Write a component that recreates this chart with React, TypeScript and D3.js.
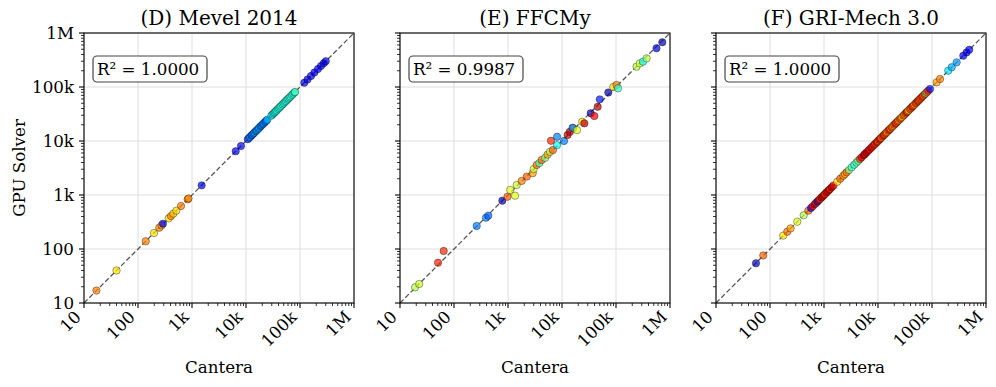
import { useRef, useLayoutEffect } from 'react';
import * as d3 from 'd3';

// shared axis settings
const tickValues = [10, 100, 1e3, 1e4, 1e5, 1e6];
const tickLabels = ['10', '100', '1k', '10k', '100k', '1M'];

const panelTitles = ['(D) Mevel 2014', '(E) FFCMy', '(F) GRI-Mech 3.0'];
const panelR2 = ['R² = 1.0000', 'R² = 0.9987', 'R² = 1.0000'];

// (D) Mevel 2014
const mevelCantera = [17, 40, 139, 198, 248, 274, 290, 370, 407, 451, 513, 626, 832, 860, 1510, 6450, 8070,
  10800, 11500, 12000, 12600, 13200, 13800, 14500, 15200, 16000, 16800, 17600, 18500, 19500, 20500, 21500, 22600, 23800, 24800,
  29500, 31000, 32500, 34000, 35500, 37000, 39000, 41000, 43000, 45000, 47500, 50000, 52500, 55000, 58000, 61000, 64000, 67000, 71000, 75000, 79000, 81000,
  120000, 138000, 160000, 185000, 215000, 245000, 275000, 300000];
const mevelGpu = [17, 40, 139, 198, 248, 274, 294, 370, 407, 451, 513, 626, 832, 860, 1510, 6450, 8070,
  10800, 11500, 12000, 12600, 13200, 13800, 14500, 15200, 16000, 16800, 17600, 18500, 19500, 20500, 21500, 22600, 23800, 24800,
  29500, 31000, 32500, 34000, 35500, 37000, 39000, 41000, 43000, 45000, 47500, 50000, 52500, 55000, 58000, 61000, 64000, 67000, 71000, 75000, 79000, 81000,
  120000, 138000, 160000, 185000, 215000, 245000, 275000, 300000];
const mevelColor = [0.75, 0.65, 0.75, 0.65, 0.75, 0.72, 0.1, 0.65, 0.75, 0.68, 0.66, 0.75, 0.76, 0.74, 0.1, 0.1, 0.11,
  0.15, 0.22, 0.3, 0.18, 0.28, 0.22, 0.32, 0.2, 0.3, 0.24, 0.32, 0.2, 0.28, 0.22, 0.3, 0.2, 0.26, 0.3,
  0.36, 0.4, 0.34, 0.42, 0.38, 0.44, 0.36, 0.42, 0.4, 0.45, 0.37, 0.43, 0.39, 0.44, 0.36, 0.42, 0.4, 0.45, 0.38, 0.43, 0.41, 0.44,
  0.1, 0.09, 0.11, 0.1, 0.12, 0.1, 0.11, 0.09];

// (E) FFCMy
const ffcmCantera = [19, 22.7, 50.6, 64.4, 263, 392, 431, 785, 980, 1100, 1350, 1450, 1790, 2230, 2870, 2990,
  3400, 3800, 4200, 4870, 5400, 6000, 6800, 8100, 6250, 8100, 10900, 12700, 14000, 16200, 15700, 19000, 23700, 26000,
  34000, 39700, 45800, 50000, 72000, 89000, 102000, 109000, 240000, 276000, 316000, 370000, 562000, 720000];
const ffcmGpu = [19.5, 22.5, 55.7, 91.8, 267, 380, 414, 785, 930, 1240, 970, 1530, 1820, 2190, 2530, 3030,
  3600, 3900, 4450, 4870, 5600, 6300, 6800, 8400, 10100, 12000, 10000, 12900, 14800, 17200, 17600, 15900, 22700, 21200,
  32600, 29000, 43000, 59000, 79000, 100000, 109000, 94600, 238000, 274000, 294000, 339000, 521000, 674000];
const ffcmColor = [0.55, 0.58, 0.85, 0.84, 0.25, 0.25, 0.22, 0.05, 0.78, 0.6, 0.6, 0.58, 0.75, 0.78, 0.72, 0.58,
  0.76, 0.45, 0.77, 0.5, 0.72, 0.55, 0.78, 0.38, 0.84, 0.25, 0.25, 0.93, 0.95, 0.6, 0.22, 0.6, 0.65, 0.93,
  0.05, 0.88, 0.95, 0.15, 0.05, 0.65, 0.75, 0.42, 0.55, 0.6, 0.38, 0.55, 0.1, 0.05];

// (F) GRI-Mech 3.0
const griCantera = [55, 75, 176, 209, 241, 320, 421, 513, 575,
  620, 681, 720, 760, 800, 850, 900, 950, 1000, 1050, 1110, 1180, 1240, 1300, 1390, 1500,
  1760, 2000, 2270, 2450, 2630, 2900, 3260, 3630, 4000, 4300, 4640, 5000, 5500, 5750, 6100, 6600, 7000, 7500,
  8000, 8500, 9000, 9500, 10000, 10500, 11000, 11500, 12200, 12800, 13400, 14000, 14700, 15500, 16200, 17000,
  18000, 19000, 20000, 21000, 22000, 23000, 24200, 25500, 26700, 28000, 29500, 31000, 32500, 34000, 35500,
  37000, 39000, 41000, 43000, 45000, 47500, 50000, 52500, 55000, 57500, 60000, 63000, 66000, 69500, 73000,
  76500, 80000, 85000, 92000, 122000, 141000, 200000, 232000, 286000, 380000, 437000, 490000];
const griGpu = [54.3, 76, 177, 209, 241, 320, 421, 513, 575,
  620, 681, 720, 760, 800, 850, 900, 950, 1000, 1050, 1110, 1180, 1240, 1300, 1390, 1500,
  1760, 2000, 2270, 2450, 2630, 2900, 3260, 3630, 4000, 4300, 4640, 5000, 5500, 5750, 6100, 6600, 7000, 7500,
  8000, 8500, 9000, 9500, 10000, 10500, 11000, 11500, 12200, 12800, 13400, 14000, 14700, 15500, 16200, 17000,
  18000, 19000, 20000, 21000, 22000, 23000, 24200, 25500, 26700, 28000, 29500, 31000, 32500, 34000, 35500,
  37000, 39000, 41000, 43000, 45000, 47500, 50000, 52500, 55000, 57500, 60000, 63000, 66000, 69500, 73000,
  76500, 80000, 85000, 92000, 122000, 141000, 200000, 232000, 286000, 380000, 437000, 490000];
const griColor = [0.05, 0.78, 0.65, 0.76, 0.72, 0.6, 0.55, 0.78, 0.12,
  0.88, 0.95, 0.86, 0.15, 0.92, 0.82, 0.96, 0.88, 0.93, 0.8, 0.95, 0.86, 0.92, 0.84, 0.96, 0.88,
  0.65, 0.78, 0.75, 0.7, 0.78, 0.5, 0.45, 0.4, 0.5, 0.45, 0.84, 0.9, 0.95, 0.88, 0.96, 0.92, 0.86, 0.94,
  0.84, 0.9, 0.8, 0.92, 0.76, 0.86, 0.9, 0.74, 0.82, 0.88, 0.76, 0.84, 0.7, 0.8, 0.88, 0.74,
  0.82, 0.7, 0.8, 0.88, 0.76, 0.84, 0.7, 0.82, 0.78, 0.62, 0.84, 0.72, 0.8, 0.9, 0.76,
  0.66, 0.84, 0.76, 0.88, 0.8, 0.7, 0.84, 0.78, 0.9, 0.74, 0.82, 0.78, 0.86, 0.76, 0.82,
  0.45, 0.78, 0.86, 0.15, 0.72, 0.75, 0.35, 0.3, 0.28, 0.12, 0.1, 0.12];

const panels = [
  { cantera: mevelCantera, gpu: mevelGpu, color: mevelColor },
  { cantera: ffcmCantera, gpu: ffcmGpu, color: ffcmColor },
  { cantera: griCantera, gpu: griGpu, color: griColor },
];

// matplotlib-like jet colormap
function jet(t: number) {
  const c = (v: number) => Math.max(0, Math.min(1, v));
  const r = c(1.5 - Math.abs(4 * t - 3));
  const g = c(1.5 - Math.abs(4 * t - 2));
  const b = c(1.5 - Math.abs(4 * t - 1));
  return d3.rgb(r * 255, g * 255, b * 255).formatHex();
}

const FONT = '"DejaVu Serif", serif';

export default function App() {
  const svgRef = useRef<SVGSVGElement>(null);

  useLayoutEffect(() => {
    const svgWidth = 996;
    const svgHeight = 387;
    const lefts = [84, 400, 716];
    const top = 33;
    const size = 270;

    const svg = d3.select(svgRef.current).attr('width', svgWidth).attr('height', svgHeight);
    svg.selectAll('*').remove();
    svg.append('rect').attr('width', svgWidth).attr('height', svgHeight).attr('fill', 'white');

    const minorTicks: number[] = [];
    for (let d = 10; d < 1e6; d *= 10) {
      for (let m = 2; m < 10; m++) minorTicks.push(d * m);
    }

    panels.forEach((panel, i) => {
      const g = svg.append('g').attr('transform', `translate(${lefts[i]}, ${top})`);
      const x = d3.scaleLog().domain([10, 1e6]).range([0, size]);
      const y = d3.scaleLog().domain([10, 1e6]).range([size, 0]);

      // grid
      g.append('g')
        .selectAll('line')
        .data(tickValues)
        .join('line')
        .attr('x1', (d) => x(d))
        .attr('x2', (d) => x(d))
        .attr('y1', 0)
        .attr('y2', size)
        .attr('stroke', '#dedede')
        .attr('stroke-width', 1);
      g.append('g')
        .selectAll('line')
        .data(tickValues)
        .join('line')
        .attr('y1', (d) => y(d))
        .attr('y2', (d) => y(d))
        .attr('x1', 0)
        .attr('x2', size)
        .attr('stroke', '#dedede')
        .attr('stroke-width', 1);

      // 1:1 line
      g.append('line')
        .attr('x1', x(10))
        .attr('y1', y(10))
        .attr('x2', x(1e6))
        .attr('y2', y(1e6))
        .attr('stroke', '#555')
        .attr('stroke-width', 1.3)
        .attr('stroke-dasharray', '5,2.5');

      // points
      g.append('g')
        .selectAll('circle')
        .data(panel.cantera.map((c, k) => ({ c, v: panel.gpu[k], t: panel.color[k] })))
        .join('circle')
        .attr('cx', (d) => x(d.c))
        .attr('cy', (d) => y(d.v))
        .attr('r', 3.7)
        .attr('fill', (d) => jet(d.t))
        .attr('fill-opacity', 0.7)
        .attr('stroke', 'black')
        .attr('stroke-opacity', 0.6)
        .attr('stroke-width', 0.6);

      // spines
      g.append('rect')
        .attr('width', size)
        .attr('height', size)
        .attr('fill', 'none')
        .attr('stroke', 'black')
        .attr('stroke-width', 1.1);

      // ticks
      g.append('g')
        .selectAll('line')
        .data(tickValues)
        .join('line')
        .attr('x1', (d) => x(d))
        .attr('x2', (d) => x(d))
        .attr('y1', size)
        .attr('y2', size + 5)
        .attr('stroke', 'black')
        .attr('stroke-width', 1.1);
      g.append('g')
        .selectAll('line')
        .data(minorTicks)
        .join('line')
        .attr('x1', (d) => x(d))
        .attr('x2', (d) => x(d))
        .attr('y1', size)
        .attr('y2', size + 3)
        .attr('stroke', 'black')
        .attr('stroke-width', 0.8);
      g.append('g')
        .selectAll('line')
        .data(tickValues)
        .join('line')
        .attr('y1', (d) => y(d))
        .attr('y2', (d) => y(d))
        .attr('x1', 0)
        .attr('x2', -5)
        .attr('stroke', 'black')
        .attr('stroke-width', 1.1);
      g.append('g')
        .selectAll('line')
        .data(minorTicks)
        .join('line')
        .attr('y1', (d) => y(d))
        .attr('y2', (d) => y(d))
        .attr('x1', 0)
        .attr('x2', -3)
        .attr('stroke', 'black')
        .attr('stroke-width', 0.8);

      // x tick labels, rotated 45°
      g.append('g')
        .selectAll('text')
        .data(tickValues)
        .join('text')
        .attr('transform', (d) => `translate(${x(d) - 2}, ${size + 15}) rotate(-45)`)
        .attr('text-anchor', 'end')
        .attr('font-family', FONT)
        .attr('font-size', 16.7)
        .text((d, k) => tickLabels[k]);

      if (i === 0) {
        g.append('g')
          .selectAll('text')
          .data(tickValues)
          .join('text')
          .attr('x', -10)
          .attr('y', (d) => y(d))
          .attr('dy', '0.36em')
          .attr('text-anchor', 'end')
          .attr('font-family', FONT)
          .attr('font-size', 16.7)
          .text((d, k) => tickLabels[k]);
        g.append('text')
          .attr('transform', `translate(${-59}, ${size / 2}) rotate(-90)`)
          .attr('text-anchor', 'middle')
          .attr('font-family', FONT)
          .attr('font-size', 16.7)
          .text('GPU Solver');
      }

      // x label
      g.append('text')
        .attr('x', size / 2)
        .attr('y', size + 70)
        .attr('text-anchor', 'middle')
        .attr('font-family', FONT)
        .attr('font-size', 16.7)
        .text('Cantera');

      // title
      g.append('text')
        .attr('x', size / 2)
        .attr('y', -8)
        .attr('text-anchor', 'middle')
        .attr('font-family', FONT)
        .attr('font-size', 20)
        .text(panelTitles[i]);

      // R² box
      g.append('rect')
        .attr('x', 9)
        .attr('y', 23)
        .attr('width', 114)
        .attr('height', 26)
        .attr('rx', 4)
        .attr('fill', 'white')
        .attr('stroke', '#444')
        .attr('stroke-width', 1.2);
      g.append('text')
        .attr('x', 13)
        .attr('y', 42)
        .attr('font-family', FONT)
        .attr('font-size', 16.7)
        .text(panelR2[i]);
    });
  }, []);

  return (
    <div style={{ position: 'absolute', left: 0, top: 0 }}>
      <svg ref={svgRef} style={{ display: 'block' }} />
    </div>
  );
}
